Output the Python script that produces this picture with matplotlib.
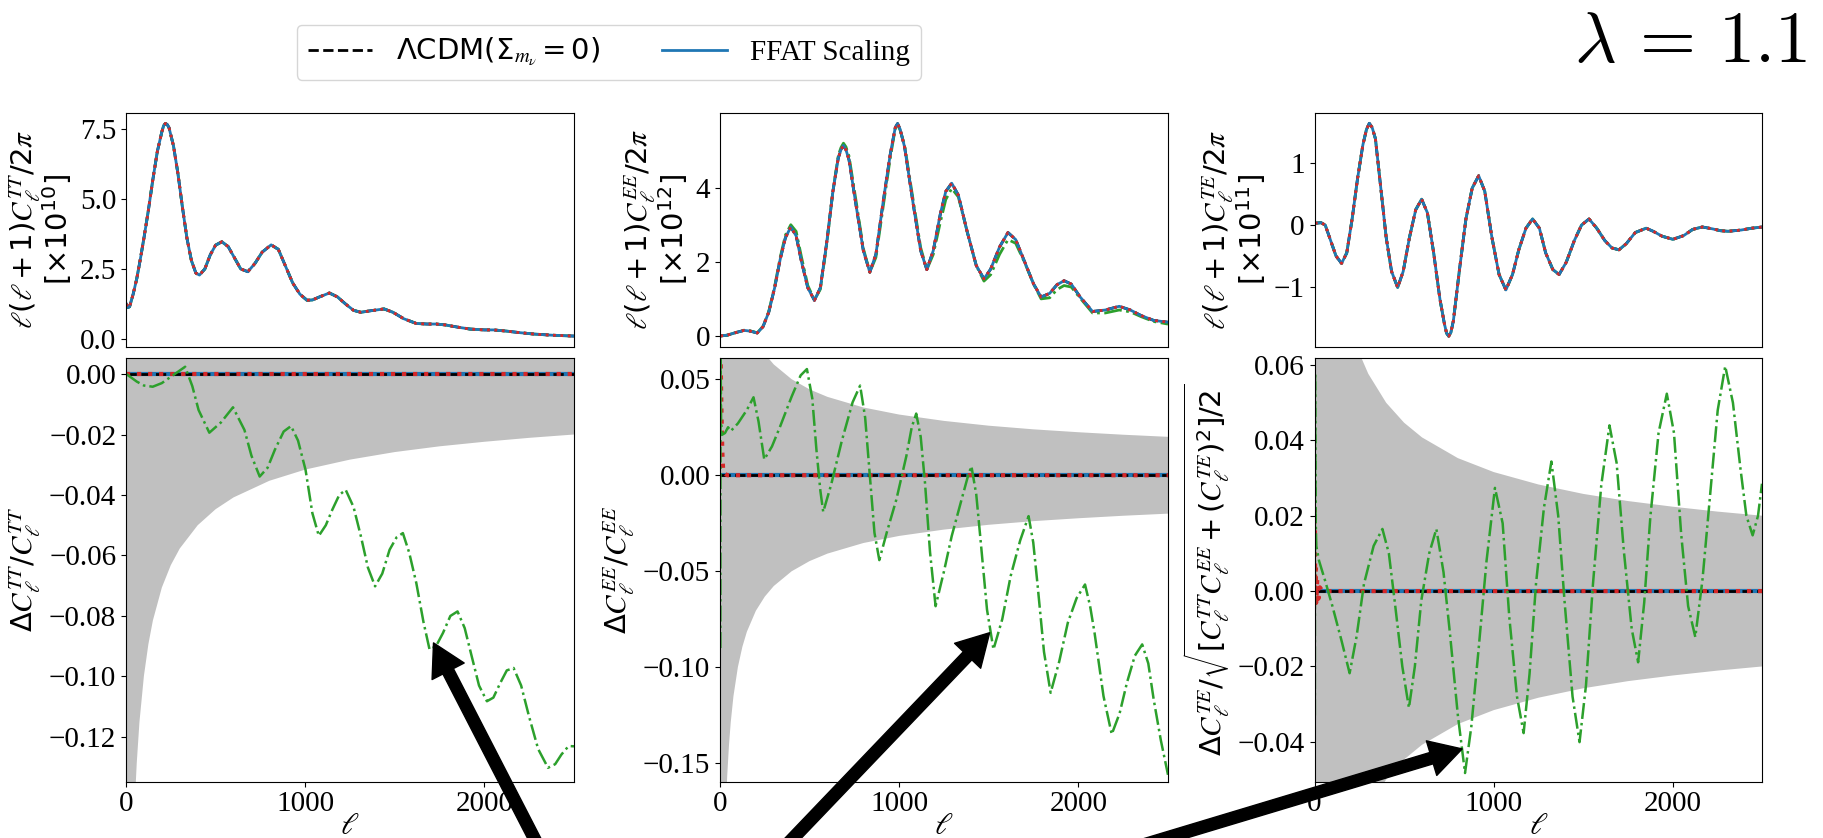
import numpy as np
import matplotlib
matplotlib.use("Agg")
import matplotlib.pyplot as plt

plt.rcParams['font.family'] = 'Liberation Serif'
plt.rcParams['mathtext.fontset'] = 'custom'
plt.rcParams['mathtext.rm'] = 'DejaVu Sans'
plt.rcParams['mathtext.it'] = 'STIXGeneral:italic'
plt.rcParams['mathtext.bf'] = 'STIXGeneral:bold'

# ---- top row: l(l+1)C_l/2pi ----
ell_tt = [2, 10, 20, 40, 60, 80, 100, 125, 150, 175, 200, 210, 220, 230, 240, 265, 290, 315, 340,
          365, 390, 410, 440, 470, 500, 535, 570, 605, 640, 680, 720, 760, 810, 850, 890, 930,
          970, 1010, 1040, 1080, 1135, 1180, 1230, 1270, 1310, 1360, 1440, 1490, 1550, 1620,
          1680, 1730, 1780, 1850, 1920, 2000, 2050, 2120, 2200, 2280, 2380, 2500]
cl_tt = [1.25, 1.12, 1.15, 1.6, 2.15, 2.85, 3.6, 4.6, 5.7, 6.7, 7.4, 7.62, 7.7, 7.66, 7.55, 6.9,
         5.9, 4.7, 3.6, 2.8, 2.35, 2.28, 2.5, 3.0, 3.35, 3.47, 3.3, 2.9, 2.5, 2.4, 2.7, 3.1, 3.36,
         3.2, 2.6, 2.0, 1.6, 1.38, 1.39, 1.5, 1.64, 1.5, 1.22, 1.02, 0.95, 1.0, 1.07, 0.95, 0.72,
         0.55, 0.53, 0.53, 0.5, 0.42, 0.35, 0.32, 0.32, 0.28, 0.22, 0.17, 0.13, 0.10]

ell_ee = [2, 40, 80, 134, 170, 208, 240, 272, 305, 336, 365, 395, 425, 455, 490, 527, 560, 595,
          630, 660, 675, 689, 703, 720, 760, 800, 836, 870, 910, 950, 978, 991, 1005, 1030, 1080,
          1120, 1154, 1190, 1230, 1260, 1293, 1330, 1380, 1430, 1473, 1510, 1560, 1607, 1650,
          1700, 1750, 1792, 1840, 1880, 1920, 1960, 2010, 2079, 2150, 2228, 2290, 2350, 2420,
          2500]
cl_ee = [0.0, 0.02, 0.08, 0.15, 0.13, 0.08, 0.25, 0.64, 1.3, 2.07, 2.65, 2.94, 2.7, 2.0, 1.3, 0.96,
         1.3, 2.5, 3.9, 4.8, 5.02, 5.14, 5.02, 4.75, 3.5, 2.3, 1.72, 2.2, 3.6, 4.9, 5.62, 5.73,
         5.58, 5.1, 3.5, 2.3, 1.79, 2.3, 3.3, 3.9, 4.12, 3.8, 2.8, 1.9, 1.54, 1.8, 2.4, 2.79, 2.6,
         2.0, 1.4, 1.05, 1.15, 1.38, 1.49, 1.4, 1.05, 0.66, 0.7, 0.80, 0.7, 0.55, 0.42, 0.37]
cl_ee_model = [0.0, 0.02, 0.08, 0.155, 0.135, 0.085, 0.26, 0.66, 1.34, 2.12, 2.72, 3.0, 2.82, 2.12,
               1.36, 0.97, 1.26, 2.45, 3.9, 4.87, 5.08, 5.2, 5.1, 4.85, 3.62, 2.36, 1.72, 2.12,
               3.47, 4.8, 5.6, 5.7, 5.55, 5.15, 3.6, 2.38, 1.79, 2.2, 3.08, 3.68, 3.98, 3.75, 2.8,
               1.9, 1.48, 1.65, 2.2, 2.6, 2.5, 1.98, 1.4, 1.0, 1.03, 1.25, 1.36, 1.32, 1.02, 0.62,
               0.62, 0.7, 0.65, 0.52, 0.39, 0.32]

ell_te = [2, 36, 60, 90, 120, 151, 180, 210, 240, 270, 290, 306, 322, 340, 370, 400, 430, 464, 495,
          530, 565, 598, 630, 665, 700, 725, 737, 749, 761, 775, 810, 845, 880, 916, 950, 990,
          1030, 1068, 1105, 1140, 1180, 1217, 1255, 1290, 1330, 1365, 1405, 1450, 1490, 1532,
          1575, 1620, 1660, 1699, 1740, 1790, 1851, 1890, 1940, 2000, 2060, 2110, 2164, 2220,
          2265, 2308, 2380, 2440, 2500]
cl_te = [0.03, 0.04, 0.0, -0.25, -0.5, -0.62, -0.45, 0.1, 0.75, 1.3, 1.55, 1.65, 1.58, 1.4, 0.6,
         -0.2, -0.75, -1.01, -0.75, -0.2, 0.25, 0.42, 0.2, -0.45, -1.2, -1.6, -1.75, -1.80, -1.74,
         -1.55, -0.7, 0.1, 0.6, 0.80, 0.55, -0.2, -0.8, -1.05, -0.8, -0.4, -0.05, 0.10, -0.05,
         -0.45, -0.72, -0.80, -0.6, -0.25, 0.0, 0.10, -0.05, -0.25, -0.37, -0.40, -0.3, -0.12,
         -0.05, -0.1, -0.18, -0.23, -0.17, -0.07, -0.03, -0.06, -0.09, -0.10, -0.08, -0.05, -0.03]

# ---- bottom row: fractional differences ----
ell_band = [2, 3, 4, 5, 7, 10, 15, 20, 30, 40, 50, 60, 75, 100, 125, 150, 200, 250, 300, 400,
            500, 600, 800, 1000, 1250, 1500, 1750, 2000, 2250, 2500]
band = [0.632, 0.535, 0.471, 0.426, 0.365, 0.309, 0.254, 0.221, 0.181, 0.157, 0.1407, 0.1286,
        0.1151, 0.0998, 0.0893, 0.0815, 0.0706, 0.0632, 0.0577, 0.0500, 0.0447, 0.0408, 0.0353,
        0.0316, 0.0283, 0.0258, 0.0239, 0.0224, 0.0211, 0.0200]

ell_zero = [2, 2500]
zero = [0.0, 0.0]

ell_tt_d = [2, 60, 100, 149, 200, 260, 330, 370, 405, 465, 530, 597, 661, 700, 746, 790, 831, 880,
            921, 960, 1002, 1040, 1076, 1115, 1151, 1190, 1226, 1270, 1311, 1350, 1390, 1430,
            1471, 1510, 1545, 1580, 1620, 1660, 1694, 1730, 1769, 1810, 1850, 1890, 1929, 1970,
            2014, 2050, 2089, 2125, 2163, 2205, 2249, 2300, 2355, 2395, 2430, 2470, 2500]
d_tt = [0.0, -0.0025, -0.0038, -0.0042, -0.003, -0.0005, 0.0024, -0.004, -0.0119, -0.0194, -0.016,
        -0.011, -0.0185, -0.027, -0.0339, -0.031, -0.025, -0.019, -0.0172, -0.022, -0.0317,
        -0.046, -0.0535, -0.050, -0.0449, -0.040, -0.0383, -0.044, -0.0537, -0.064, -0.0702,
        -0.066, -0.0581, -0.054, -0.0526, -0.059, -0.0691, -0.082, -0.0911, -0.090, -0.0856,
        -0.080, -0.0785, -0.084, -0.0933, -0.103, -0.1082, -0.107, -0.1021, -0.098, -0.0972,
        -0.103, -0.1132, -0.124, -0.1302, -0.129, -0.1258, -0.123, -0.1231]

ell_ee_d = [2, 3, 6, 10, 28, 45, 60, 100, 150, 187, 215, 247, 290, 336, 400, 450, 485, 515, 538,
            560, 576, 620, 680, 740, 782, 810, 836, 862, 889, 930, 984, 1040, 1070, 1095, 1120,
            1144, 1172, 1203, 1250, 1293, 1350, 1385, 1403, 1430, 1452, 1490, 1526, 1575, 1622,
            1675, 1722, 1748, 1771, 1808, 1845, 1893, 1941, 1990, 2037, 2065, 2090, 2140, 2186,
            2230, 2271, 2315, 2356, 2390, 2420, 2460, 2500]
d_ee = [-0.09, 0.07, 0.03, 0.021, 0.022, 0.025, 0.023, 0.027, 0.034, 0.0406, 0.028, 0.0082, 0.015,
        0.0255, 0.041, 0.052, 0.0553, 0.040, 0.0134, -0.008, -0.0191, -0.005, 0.018, 0.038,
        0.0467, 0.03, 0.0, -0.03, -0.0442, -0.03, -0.0127, 0.01, 0.025, 0.0321, 0.02, -0.004,
        -0.04, -0.0682, -0.05, -0.0317, -0.012, 0.0, 0.0047, -0.01, -0.0317, -0.07, -0.0907,
        -0.075, -0.0525, -0.034, -0.0213, -0.035, -0.056, -0.092, -0.1133, -0.097, -0.0768,
        -0.064, -0.0569, -0.068, -0.082, -0.115, -0.1349, -0.124, -0.108, -0.094, -0.0881,
        -0.098, -0.1167, -0.138, -0.156]

ell_te_d = [2, 3, 6, 10, 25, 59, 100, 150, 196, 235, 276, 330, 379, 415, 447, 490, 527, 560, 596,
            640, 680, 720, 756, 800, 840, 875, 915, 960, 1007, 1050, 1087, 1130, 1167, 1200, 1236,
            1280, 1322, 1360, 1395, 1440, 1479, 1515, 1554, 1600, 1646, 1686, 1726, 1770, 1806,
            1840, 1874, 1920, 1966, 2006, 2046, 2085, 2125, 2165, 2205, 2250, 2292, 2335, 2376,
            2410, 2445, 2475, 2497]
d_te = [-0.033, 0.058, 0.02, 0.012, 0.0081, 0.0028, -0.004, -0.013, -0.0218, -0.012, 0.0019, 0.012,
        0.0165, 0.01, -0.0025, -0.02, -0.031, -0.02, -0.0025, 0.01, 0.0165, 0.005, -0.0113,
        -0.033, -0.0483, -0.036, -0.0158, 0.008, 0.0274, 0.018, -0.0069, -0.028, -0.0377, -0.022,
        0.0019, 0.022, 0.0344, 0.02, -0.0025, -0.028, -0.0401, -0.025, 0.0019, 0.028, 0.044,
        0.034, 0.0108, -0.01, -0.0189, -0.003, 0.0196, 0.042, 0.0524, 0.042, 0.0152, -0.004,
        -0.0122, 0.003, 0.0241, 0.048, 0.0597, 0.05, 0.0329, 0.02, 0.0148, 0.02, 0.0285]

ell_red_ee = [2, 4, 6, 9, 13, 18, 25, 40, 2500]
red_ee = [0.075, 0.06, 0.045, 0.03, 0.012, 0.002, 0.001, 0.0, 0.0]
ell_red_te = [2, 4, 7, 10, 15, 22, 30, 45, 60, 2500]
red_te = [0.022, -0.004, 0.006, -0.003, 0.003, -0.002, 0.001, 0.0, 0.0, 0.0]

top_labels = [r'$\ell(\ell+1)C_\ell^{TT}/2\pi$' + '\n' + r'$[\times 10^{10}]$',
              r'$\ell(\ell+1)C_\ell^{EE}/2\pi$' + '\n' + r'$[\times 10^{12}]$',
              r'$\ell(\ell+1)C_\ell^{TE}/2\pi$' + '\n' + r'$[\times 10^{11}]$']
bot_labels = [r'$\Delta C_\ell^{TT}/C_\ell^{TT}$',
              r'$\Delta C_\ell^{EE}/C_\ell^{EE}$',
              r'$\Delta C_\ell^{TE}/\sqrt{[C_\ell^{TT}C_\ell^{EE}+(C_\ell^{TE})^2]/2}$']

fig = plt.figure(figsize=(18.24, 8.38), dpi=100)
W, H = 1824, 838
lefts = [126, 720, 1314.5]
width = 448
top_axes = [fig.add_axes([l / W, (H - 346.7) / H, width / W, 233.9 / H]) for l in lefts]
bot_axes = [fig.add_axes([l / W, (H - 781.7) / H, width / W, 423.4 / H]) for l in lefts]

top_data = [(ell_tt, cl_tt, cl_tt), (ell_ee, cl_ee, cl_ee_model), (ell_te, cl_te, cl_te)]
top_lims = [(-0.28, 8.08), (-0.29, 6.02), (-1.97, 1.82)]
top_ticks = [[0, 2.5, 5.0, 7.5], [0, 2, 4], [-1, 0, 1]]
top_fmt = ['{:.1f}', '{:g}', '{:g}']

for i, ax in enumerate(top_axes):
    ell, base, model = top_data[i]
    ax.plot(ell, base, color='black', ls='--', lw=2, label=r'$\Lambda\mathrm{CDM}(\Sigma_{m_\nu}=0)$')
    ax.plot(ell, model, color='#2ca02c', ls='-.', lw=2)
    ax.plot(ell, base, color='#1f77b4', lw=2, label='FFAT Scaling')
    ax.plot(ell, base, color='#d62728', ls=':', lw=2)
    ax.set_xlim(0, 2500)
    ax.set_ylim(*top_lims[i])
    ax.set_yticks(top_ticks[i])
    ax.set_yticklabels([top_fmt[i].format(t).replace('-', '\u2212') for t in top_ticks[i]])
    ax.set_xticks([])
    ax.set_ylabel(top_labels[i], fontsize=21, linespacing=0.95)
    ax.tick_params(labelsize=21)

bot_green = [(ell_tt_d, d_tt), (ell_ee_d, d_ee), (ell_te_d, d_te)]
bot_red = [(ell_zero, zero), (ell_red_ee, red_ee), (ell_red_te, red_te)]
bot_lims = [(-0.1348, 0.0052), (-0.1596, 0.0609), (-0.0506, 0.0618)]
bot_ticks = [[0.0, -0.02, -0.04, -0.06, -0.08, -0.10, -0.12],
             [0.05, 0.0, -0.05, -0.10, -0.15],
             [0.06, 0.04, 0.02, 0.0, -0.02, -0.04]]

for i, ax in enumerate(bot_axes):
    b = np.array(band)
    ax.fill_between(ell_band, -b, b, color='silver', lw=0)
    ax.plot(ell_zero, zero, color='#1f77b4', lw=3)
    ax.plot(ell_zero, zero, color='black', ls='--', lw=2)
    ax.plot(*bot_red[i], color='#d62728', ls=':', lw=3)
    ax.plot(*bot_green[i], color='#2ca02c', ls='-.', lw=1.8)
    ax.set_xlim(0, 2500)
    ax.set_ylim(*bot_lims[i])
    ax.set_yticks(bot_ticks[i])
    ax.set_yticklabels(['{:.2f}'.format(t + 0.0).replace('-', '\u2212') for t in bot_ticks[i]])
    ax.set_xticks([0, 1000, 2000])
    ax.set_xlabel(r'$\ell$', fontsize=22, labelpad=-4)
    ax.set_ylabel(bot_labels[i], fontsize=21)
    ax.tick_params(labelsize=21)

# arrows pointing at the shifted curves
tips = [(1716, -0.0889), (1505, -0.082), (824, -0.0419)]
tails = [(566, -62), (734, -62), (1060, -32)]
for ax, tip, tail in zip(bot_axes, tips, tails):
    ax.annotate('', xy=tip, xytext=tail, textcoords='figure pixels', annotation_clip=False,
                arrowprops=dict(facecolor='black', edgecolor='black', width=8.5,
                                headwidth=26, headlength=23))

h, l = top_axes[0].get_legend_handles_labels()
fig.legend(h, l, loc='upper left', bbox_to_anchor=(282 / W, 1 - 10 / H), ncol=2,
           fontsize=21, handlelength=2.2, columnspacing=2.15)

fig.text(1807 / W, 1 - 62 / H, r'$\lambda \,=\, 1.1$', fontsize=52, ha='right', va='baseline',
         math_fontfamily='cm')

fig.savefig('out.png', dpi=100)
